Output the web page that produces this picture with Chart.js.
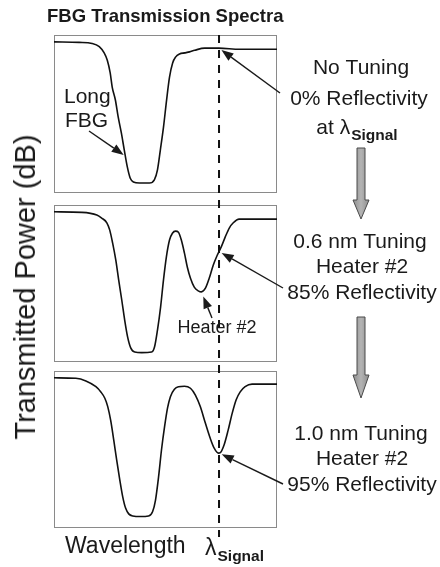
<!DOCTYPE html>
<html>
<head>
<meta charset="utf-8">
<script src="https://cdn.jsdelivr.net/npm/chart.js@4.4.1/dist/chart.umd.min.js"></script>
<style>
  body { margin: 0; background: #fff; width: 440px; height: 567px; position: relative; overflow: hidden; }
  canvas { position: absolute; left: 0; }
  #ylabel {
    position: absolute; left: 25px; top: 287px;
    font-family: "Liberation Sans", Arial, sans-serif; font-size: 29px; line-height: 34px;
    color: #1a1a1a; white-space: nowrap;
    transform: translate(-50%, -50%) rotate(-90deg);
  }
</style>
</head>
<body>
<canvas id="panel1" width="440" height="230" style="top:0px"></canvas>
<canvas id="panel2" width="440" height="210" style="top:199px"></canvas>
<canvas id="panel3" width="440" height="200" style="top:367px"></canvas>
<div id="ylabel">Transmitted Power (dB)</div>
<script>
// wavelength axis is relative (0..100 across the plotted span), transmission in dB
const wl1 = [0, 11.3, 17.1, 20.3, 22.5, 23.9, 25.2, 26.1, 27.5, 28.8, 30.2, 31.5, 32.9, 34.2, 35.6, 38.3, 42.8,
  45.0, 46.4, 47.7, 49.1, 50.5, 51.8, 53.2, 54.5, 56.3, 58.6, 60.8, 63.1, 67.6, 73.9, 83.3, 100];
const db1 = [-1.3, -1.4, -1.6, -2.2, -3.4, -4.8, -7.2, -9.9, -12.3, -15.6, -18.6, -21.8, -25.1, -27.2, -27.9, -28.1, -28.1,
  -27.5, -25.6, -21.8, -17.5, -12.3, -8.0, -5.3, -4.2, -3.6, -3.4, -3.2, -2.9, -2.5, -2.5, -2.7, -2.7];

const wl2 = [0, 12.5, 19.2, 21.4, 23.7, 25.0, 26.3, 27.7, 29.0, 30.4, 31.7, 33.0, 34.4, 36.2, 39.3, 43.8, 45.1,
  46.4, 47.8, 49.1, 50.4, 51.8, 53.1, 54.5, 55.8, 57.1, 58.5, 59.8, 61.2, 62.9, 64.7, 66.1, 67.9, 69.6, 71.4,
  73.2, 75.0, 76.8, 78.6, 80.4, 83.0, 86.2, 100];
const db2 = [-1.3, -1.4, -1.9, -2.5, -3.4, -4.8, -7.3, -10.5, -14.3, -18.2, -22.0, -25.2, -27.3, -28.1, -28.2, -28.1, -27.1,
  -23.9, -19.5, -14.3, -9.9, -6.7, -5.4, -5.0, -5.2, -6.7, -9.2, -11.9, -14.0, -15.7, -16.4, -16.6, -15.9, -14.0, -11.5,
  -9.6, -8.0, -6.1, -4.4, -3.4, -2.7, -2.7, -2.7];

const wl3 = [0, 9.8, 14.3, 18.8, 21.0, 22.8, 24.1, 25.4, 26.8, 28.1, 29.5, 30.8, 32.1, 33.5, 35.3, 38.8, 42.4,
  44.2, 45.5, 46.9, 48.2, 49.6, 50.9, 52.2, 54.0, 55.8, 58.5, 61.2, 63.4, 65.6, 67.9, 70.1, 71.9, 73.7, 74.6,
  76.3, 78.1, 79.9, 81.7, 83.5, 85.7, 88.8, 92.4, 100];
const db3 = [-1.3, -1.4, -1.9, -3.0, -4.0, -5.2, -6.8, -9.4, -13.2, -17.0, -20.8, -24.0, -26.2, -27.3, -27.7, -27.8, -27.7,
  -26.9, -24.7, -20.2, -15.1, -10.6, -7.1, -4.9, -3.5, -3.0, -2.9, -3.3, -4.6, -6.8, -10.0, -12.9, -14.8, -15.7, -15.6,
  -14.1, -11.3, -8.1, -5.5, -4.0, -3.0, -2.5, -2.5, -2.5];

const lambdaSignal = 74;   // signal wavelength on the same axis
const heaterDip = 66.1;    // heater #2 dip in the 0.6 nm panel

const FONT = '"Liberation Sans", Arial, sans-serif';
const INK = '#1a1a1a';

function valueAt(xs, ys, x) {
  for (let i = 1; i < xs.length; i++) {
    if (x <= xs[i]) {
      const t = (x - xs[i - 1]) / (xs[i] - xs[i - 1]);
      return ys[i - 1] + t * (ys[i] - ys[i - 1]);
    }
  }
  return ys[ys.length - 1];
}

function text(ctx, str, x, y, size, align, bold) {
  ctx.font = (bold ? 'bold ' : '') + size + 'px ' + FONT;
  ctx.textAlign = align || 'center';
  ctx.textBaseline = 'alphabetic';
  ctx.fillStyle = INK;
  ctx.fillText(str, x, y);
}

// "at λ" + bold subscript "Signal"
function lambdaText(ctx, prefix, cx, y, size, left) {
  ctx.font = size + 'px ' + FONT;
  const w1 = ctx.measureText(prefix).width;
  ctx.font = 'bold 15.5px ' + FONT;
  const w2 = ctx.measureText('Signal').width;
  const x0 = left !== undefined ? left : cx - (w1 + w2 + 1) / 2;
  text(ctx, prefix, x0, y, size, 'left');
  text(ctx, 'Signal', x0 + w1 + 1, y + 6, 15.5, 'left', true);
}

function pointer(ctx, tail, target, gap) {
  const dx = target.x - tail.x, dy = target.y - tail.y;
  const len = Math.hypot(dx, dy), ux = dx / len, uy = dy / len;
  const tip = { x: target.x - ux * gap, y: target.y - uy * gap };
  const hl = 12, hw = 4.5;
  const bx = tip.x - ux * hl, by = tip.y - uy * hl;
  ctx.strokeStyle = INK; ctx.fillStyle = INK; ctx.lineWidth = 1.4; ctx.setLineDash([]);
  ctx.beginPath(); ctx.moveTo(tail.x, tail.y); ctx.lineTo(bx, by); ctx.stroke();
  ctx.beginPath();
  ctx.moveTo(tip.x, tip.y);
  ctx.lineTo(bx - uy * hw, by + ux * hw);
  ctx.lineTo(bx + uy * hw, by - ux * hw);
  ctx.closePath(); ctx.fill();
}

function blockArrow(ctx, cx, top, headStart, tip) {
  const g = ctx.createLinearGradient(cx - 8, 0, cx + 8, 0);
  g.addColorStop(0, '#8e8e8e'); g.addColorStop(0.5, '#b4b4b4'); g.addColorStop(1, '#8e8e8e');
  ctx.beginPath();
  ctx.moveTo(cx - 4, top); ctx.lineTo(cx + 4, top); ctx.lineTo(cx + 4, headStart);
  ctx.lineTo(cx + 8, headStart); ctx.lineTo(cx, tip); ctx.lineTo(cx - 8, headStart);
  ctx.lineTo(cx - 4, headStart); ctx.closePath();
  ctx.fillStyle = g; ctx.fill();
  ctx.strokeStyle = '#4a4a4a'; ctx.lineWidth = 1; ctx.setLineDash([]); ctx.stroke();
}

function dashed(chart, y0, y1) {
  const ctx = chart.ctx, x = chart.scales.x.getPixelForValue(lambdaSignal);
  ctx.strokeStyle = '#111'; ctx.lineWidth = 2;
  ctx.setLineDash([8, 7]); ctx.lineDashOffset = y0 - 35;
  ctx.beginPath(); ctx.moveTo(x, y0); ctx.lineTo(x, y1); ctx.stroke();
  ctx.setLineDash([]); ctx.lineDashOffset = 0;
}

function on(chart, wl, db, x) {
  return { x: chart.scales.x.getPixelForValue(x), y: chart.scales.y.getPixelForValue(valueAt(wl, db, x)) };
}

function makePanel(id, wl, db, top, pad, decorate) {
  return new Chart(document.getElementById(id), {
    type: 'line',
    data: {
      datasets: [{
        data: wl.map((x, i) => ({ x: x, y: db[i] })),
        borderColor: '#111',
        borderWidth: 1.6,
        pointRadius: 0,
        cubicInterpolationMode: 'monotone',
        fill: false,
      }],
    },
    options: {
      responsive: false,
      animation: false,
      devicePixelRatio: 1,
      layout: { padding: pad },
      scales: {
        x: { type: 'linear', min: 0, max: 100, display: false },
        y: { min: -30, max: 0, display: false },
      },
      plugins: { legend: { display: false }, tooltip: { enabled: false } },
    },
    plugins: [{
      id: 'panelDecor',
      beforeDatasetsDraw(chart) {
        const a = chart.chartArea, ctx = chart.ctx;
        ctx.save();
        ctx.strokeStyle = '#8a8a8a'; ctx.lineWidth = 1;
        ctx.strokeRect(a.left + 0.5, a.top + 0.5, a.right - a.left - 1, a.bottom - a.top - 1);
        ctx.restore();
      },
      afterDatasetsDraw(chart) {
        const ctx = chart.ctx;
        ctx.save();
        ctx.translate(0, -top);
        decorate(chart, ctx, top);
        ctx.restore();
      },
    }],
  });
}

// chart areas sit at x 54..277 in every panel
makePanel('panel1', wl1, db1, 0, { top: 35, bottom: 37, left: 54, right: 163 }, (chart, ctx, top) => {
  const T = p => ({ x: p.x, y: p.y + top });
  text(ctx, 'FBG Transmission Spectra', 47, 22, 18.5, 'left', true);
  dashed(chart, 35 + top, 199);
  text(ctx, 'No Tuning', 361, 74, 21);
  text(ctx, '0% Reflectivity', 359, 105, 21);
  lambdaText(ctx, 'at \u03bb', 357, 134, 21);
  text(ctx, 'Long', 64, 103, 21, 'left');
  text(ctx, 'FBG', 65, 127, 21, 'left');
  pointer(ctx, { x: 89, y: 131 }, T(on(chart, wl1, db1, 32)), 2);
  pointer(ctx, { x: 280, y: 93 }, T(on(chart, wl1, db1, lambdaSignal)), 3);
  blockArrow(ctx, 361, 148, 200, 219);
});

makePanel('panel2', wl2, db2, 199, { top: 6, bottom: 47, left: 54, right: 163 }, (chart, ctx, top) => {
  const T = p => ({ x: p.x, y: p.y + top });
  dashed(chart, 199, 367);
  text(ctx, '0.6 nm Tuning', 360, 248, 21);
  text(ctx, 'Heater #2', 362, 273, 21);
  text(ctx, '85% Reflectivity', 362, 299, 21);
  text(ctx, 'Heater #2', 217, 333, 18);
  pointer(ctx, { x: 283, y: 288 }, T(on(chart, wl2, db2, lambdaSignal)), 3);
  pointer(ctx, { x: 212, y: 318 }, T(on(chart, wl2, db2, heaterDip)), 5);
  blockArrow(ctx, 361, 317, 375, 398);
});

makePanel('panel3', wl3, db3, 367, { top: 4, bottom: 39, left: 54, right: 163 }, (chart, ctx, top) => {
  const T = p => ({ x: p.x, y: p.y + top });
  dashed(chart, 367, 537);
  text(ctx, '1.0 nm Tuning', 361, 440, 21);
  text(ctx, 'Heater #2', 362, 465, 21);
  text(ctx, '95% Reflectivity', 362, 491, 21);
  pointer(ctx, { x: 283, y: 484 }, T(on(chart, wl3, db3, lambdaSignal)), 3);
  text(ctx, 'Wavelength', 65, 553, 23, 'left');
  lambdaText(ctx, '\u03bb', 0, 555, 23, 205);
});
</script>
</body>
</html>
